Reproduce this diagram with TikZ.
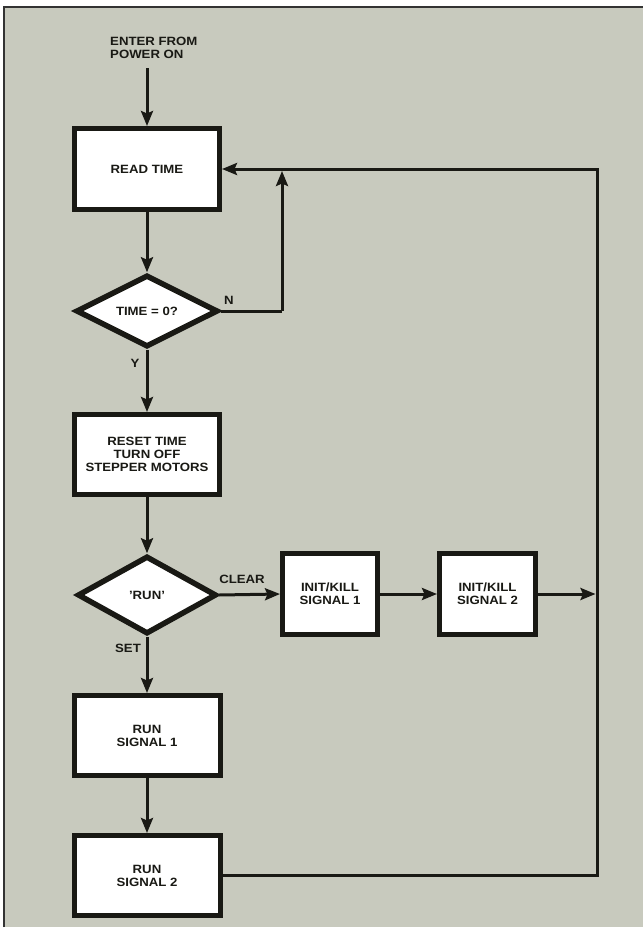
\documentclass[tikz,border=0pt]{standalone}
\usepackage{fontspec}
\setmainfont{Liberation Sans}[FakeStretch=1.1]
\usetikzlibrary{shapes.geometric,arrows.meta}
\definecolor{bg}{RGB}{200,202,190}
\definecolor{ink}{RGB}{25,25,20}
\begin{document}
\begin{tikzpicture}[x=1pt,y=-1pt,
  txt/.style={font=\bfseries\fontsize{12}{13}\selectfont, text=ink},
  box/.style={txt, draw=ink, line width=5pt, fill=white, rectangle, inner sep=0pt, align=center},
  dia/.style={txt, draw=ink, line width=5.5pt, fill=white, diamond, inner sep=0pt, align=center},
  lab/.style={txt, inner sep=0pt},
  conn/.style={draw=ink, line width=3pt, -{Stealth[length=15pt,width=12pt,inset=2.5pt]}},
  wire/.style={draw=ink, line width=3pt}]
\useasboundingbox (0,0) rectangle (643,929);
\fill[white] (0,0) rectangle (643,929);
\fill[bg] (4,7) rectangle (643,927);
\draw[black!80, line width=1.2pt] (4,927) -- (4,7) -- (643,7);

% nodes
\node[lab, anchor=north west, align=left] (enter) at (110,37) {ENTER FROM\\POWER ON};
\node[box, minimum width=145pt, minimum height=81pt] (read) at (147,169) {READ TIME};
\node[dia, minimum width=142pt, minimum height=72pt] (timeq) at (147,311) {TIME = 0?};
\node[box, minimum width=145pt, minimum height=80pt] (reset) at (147,454.5) {RESET TIME\\TURN OFF\\STEPPER MOTORS};
\node[dia, minimum width=139pt, minimum height=78pt] (run) at (147,595) {'RUN'};
\node[box, minimum width=95pt, minimum height=81pt] (kill1) at (330,594) {INIT/KILL\\SIGNAL 1};
\node[box, minimum width=96pt, minimum height=81pt] (kill2) at (487.5,594) {INIT/KILL\\SIGNAL 2};
\node[box, minimum width=146pt, minimum height=80pt] (rs1) at (147,735.5) {RUN\\SIGNAL 1};
\node[box, minimum width=146pt, minimum height=80pt] (rs2) at (147,875.5) {RUN\\SIGNAL 2};

% labels
\node[lab] (nlab) at (229,300) {N};
\node[lab] (ylab) at (135,363) {Y};
\node[lab] (clab) at (242,579) {CLEAR};
\node[lab] (slab) at (128,648) {SET};

% coordinates
\coordinate (start) at (147,68);
\coordinate (nturn) at (282,311);
\coordinate (ntop) at (282,171);
\coordinate (bus2) at (595.5,594);
\coordinate (rbot) at (597,875.5);
\coordinate (rtop) at (597,169);

% connectors
\draw[conn] (start) -- (read.north);
\draw[conn] (read.south) -- (timeq.north);
\draw[wire] (timeq.east) -- (nturn);
\draw[conn] (nturn) -- (ntop);
\draw[conn] (timeq.south) -- (reset.north);
\draw[conn] (reset.south) -- (run.north);
\draw[conn] (run.east) -- (kill1.west);
\draw[conn] (kill1.east) -- (kill2.west);
\draw[conn] (kill2.east) -- (bus2);
\draw[conn] (run.south) -- (rs1.north);
\draw[conn] (rs1.south) -- (rs2.north);
\draw[conn] (rs2.east) -- (rbot) -- (rtop) -- (read.east);
\end{tikzpicture}
\end{document}
